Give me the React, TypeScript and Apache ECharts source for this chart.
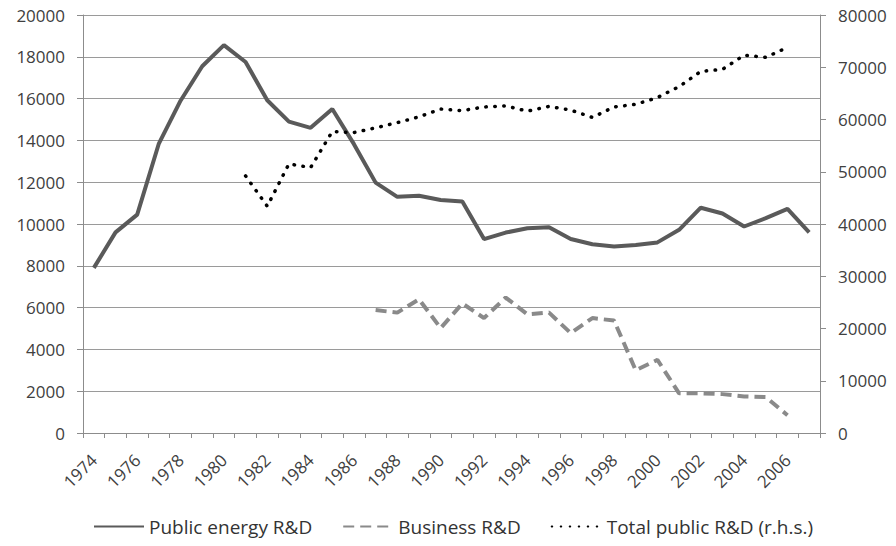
import React, { useEffect, useRef } from "react";
import * as echarts from "echarts";

const years: string[] = [
  "1974", "1975", "1976", "1977", "1978", "1979", "1980", "1981", "1982", "1983",
  "1984", "1985", "1986", "1987", "1988", "1989", "1990", "1991", "1992", "1993",
  "1994", "1995", "1996", "1997", "1998", "1999", "2000", "2001", "2002", "2003",
  "2004", "2005", "2006", "2007",
];

// Public energy R&D (left axis), 1974-2007
const publicEnergy: (number | null)[] = [
  7900, 9600, 10450, 13850, 15900, 17550, 18560, 17750, 15920, 14900,
  14600, 15500, 13820, 11980, 11300, 11350, 11150, 11080, 9280, 9590,
  9800, 9850, 9280, 9030, 8920, 9000, 9120, 9720, 10780, 10500,
  9880, 10280, 10720, 9600,
];

// Business R&D (left axis), data from 1987 to 2006
const businessRD: (number | null)[] = [
  null, null, null, null, null, null, null, null, null, null,
  null, null, null, 5880, 5760, 6400, 5020, 6200, 5500, 6480,
  5680, 5760, 4780, 5500, 5380, 3000, 3500, 1900, 1900, 1860,
  1750, 1720, 850, null,
];

// Total public R&D (right axis), data from 1981 to 2006
const totalPublicRD: (number | null)[] = [
  null, null, null, null, null, null, null, 49200, 43400, 51500,
  50800, 57700, 57500, 58400, 59400, 60500, 62000, 61700, 62400, 62600,
  61600, 62500, 61800, 60400, 62400, 62900, 64200, 66300, 69200, 69600,
  72300, 71900, 73800, null,
];

const leftTicks = { min: 0, max: 20000, interval: 2000 };
const rightTicks = { min: 0, max: 80000, interval: 10000 };

const FONT = "'Open Sans', sans-serif";
const plain = (v: number) => String(v);

export default function App() {
  const ref = useRef<HTMLDivElement>(null);

  useEffect(() => {
    if (!ref.current) return;
    const chart = echarts.init(ref.current, null, { renderer: "svg" });
    chart.setOption({
      animation: false,
      backgroundColor: "#ffffff",
      grid: { left: 83, right: 76, top: 15, bottom: 113, containLabel: false },
      legend: {
        left: 88,
        top: 512,
        itemWidth: 50,
        itemHeight: 14,
        itemGap: 30,
        itemStyle: { color: "transparent", borderWidth: 0, opacity: 0 },
        textStyle: { fontFamily: FONT, fontSize: 19, color: "#333333" },
        data: ["Public energy R&D", "Business R&D", "Total public R&D (r.h.s.)"],
      },
      xAxis: {
        type: "category",
        data: years,
        boundaryGap: true,
        axisLine: { show: true, lineStyle: { color: "#8c8c8c", width: 1 } },
        axisTick: { show: true, interval: 0, length: 5, lineStyle: { color: "#8c8c8c" } },
        axisLabel: {
          interval: 1,
          rotate: 45,
          margin: 24,
          fontFamily: FONT,
          fontSize: 17,
          color: "#404040",
        },
        splitLine: { show: false },
      },
      yAxis: [
        {
          type: "value",
          position: "left",
          min: leftTicks.min,
          max: leftTicks.max,
          interval: leftTicks.interval,
          axisLine: { show: true, lineStyle: { color: "#8c8c8c", width: 1 } },
          axisTick: { show: true, length: 6, lineStyle: { color: "#8c8c8c" } },
          axisLabel: { margin: 18, fontFamily: FONT, fontSize: 17, color: "#404040", formatter: plain },
          splitLine: { show: true, lineStyle: { color: "#9a9a9a", width: 1 } },
        },
        {
          type: "value",
          position: "right",
          min: rightTicks.min,
          max: rightTicks.max,
          interval: rightTicks.interval,
          axisLine: { show: true, lineStyle: { color: "#8c8c8c", width: 1 } },
          axisTick: { show: true, length: 6, lineStyle: { color: "#8c8c8c" } },
          axisLabel: { margin: 18, fontFamily: FONT, fontSize: 17, color: "#404040", formatter: plain },
          splitLine: { show: false },
        },
      ],
      series: [
        {
          name: "Public energy R&D",
          type: "line",
          yAxisIndex: 0,
          data: publicEnergy,
          symbol: "none",
          connectNulls: false,
          lineStyle: { color: "#5a5a5a", width: 4, type: "solid" },
          itemStyle: { color: "#5a5a5a" },
        },
        {
          name: "Business R&D",
          type: "line",
          yAxisIndex: 0,
          data: businessRD,
          symbol: "none",
          connectNulls: false,
          lineStyle: { color: "#8a8a8a", width: 4, type: [11, 6] },
          itemStyle: { color: "#8a8a8a" },
        },
        {
          name: "Total public R&D (r.h.s.)",
          type: "line",
          yAxisIndex: 1,
          data: totalPublicRD,
          symbol: "none",
          connectNulls: false,
          lineStyle: { color: "#000000", width: 3.5, type: [0.5, 8.5], cap: "round" },
          itemStyle: { color: "#000000" },
        },
      ],
    });
    return () => chart.dispose();
  }, []);

  return <div ref={ref} style={{ width: 896, height: 546, margin: -8 }} />;
}
